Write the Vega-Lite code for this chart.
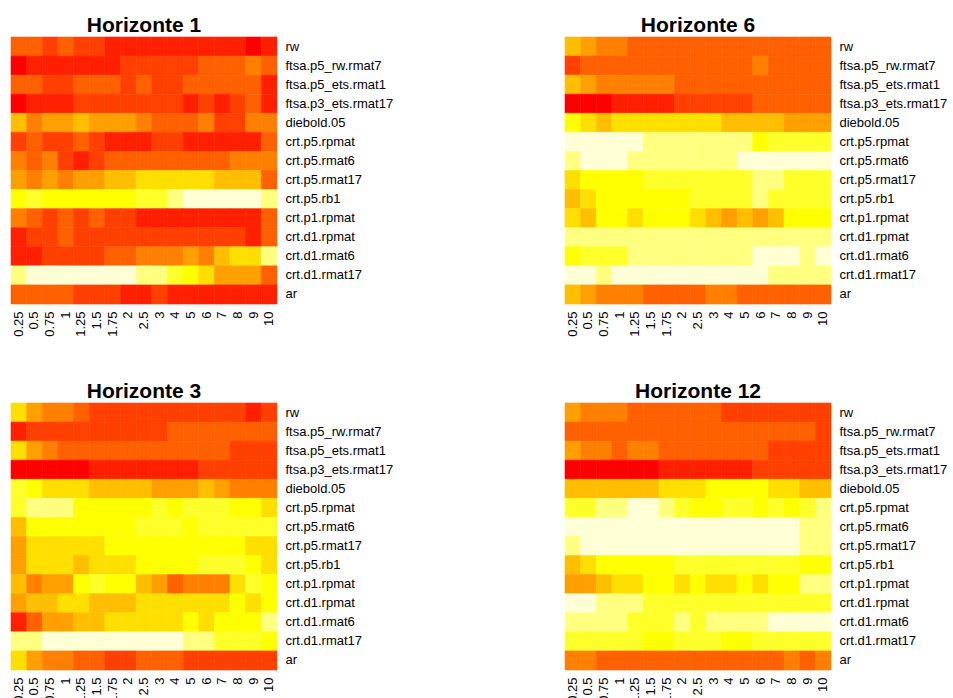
{
"$schema":"https://vega.github.io/schema/vega-lite/v6.json",
"padding":{"left":10,"top":14,"right":5,"bottom":5},
"background":"white",
"config":{"view":{"stroke":null},
"font":"Liberation Sans",
"title":{"font":"Liberation Sans","fontSize":21,"fontWeight":"bold","color":"black","offset":1,"anchor":"middle"},
"axis":{"domain":false,"ticks":false,"labelFont":"Liberation Sans","labelFontSize":13,"labelColor":"black","title":null,"grid":false},
"axisX":{"labelAngle":-90,"labelPadding":7},
"axisY":{"labelPadding":8}},
"data":{"values":[
{"p":1,"r":"rw","x":"0.25","v":3},{"p":1,"r":"rw","x":"0.5","v":3},{"p":1,"r":"rw","x":"0.75","v":2},{"p":1,"r":"rw","x":"1","v":3},{"p":1,"r":"rw","x":"1.25","v":2},{"p":1,"r":"rw","x":"1.5","v":2},{"p":1,"r":"rw","x":"1.75","v":1},{"p":1,"r":"rw","x":"2","v":1},{"p":1,"r":"rw","x":"2.5","v":1},{"p":1,"r":"rw","x":"3","v":1},{"p":1,"r":"rw","x":"4","v":1},{"p":1,"r":"rw","x":"5","v":1},{"p":1,"r":"rw","x":"6","v":1},{"p":1,"r":"rw","x":"7","v":1},{"p":1,"r":"rw","x":"8","v":1},{"p":1,"r":"rw","x":"9","v":0},{"p":1,"r":"rw","x":"10","v":1},
{"p":1,"r":"ftsa.p5_rw.rmat7","x":"0.25","v":0},{"p":1,"r":"ftsa.p5_rw.rmat7","x":"0.5","v":1},{"p":1,"r":"ftsa.p5_rw.rmat7","x":"0.75","v":1},{"p":1,"r":"ftsa.p5_rw.rmat7","x":"1","v":1},{"p":1,"r":"ftsa.p5_rw.rmat7","x":"1.25","v":1},{"p":1,"r":"ftsa.p5_rw.rmat7","x":"1.5","v":1},{"p":1,"r":"ftsa.p5_rw.rmat7","x":"1.75","v":1},{"p":1,"r":"ftsa.p5_rw.rmat7","x":"2","v":2},{"p":1,"r":"ftsa.p5_rw.rmat7","x":"2.5","v":2},{"p":1,"r":"ftsa.p5_rw.rmat7","x":"3","v":2},{"p":1,"r":"ftsa.p5_rw.rmat7","x":"4","v":2},{"p":1,"r":"ftsa.p5_rw.rmat7","x":"5","v":2},{"p":1,"r":"ftsa.p5_rw.rmat7","x":"6","v":3},{"p":1,"r":"ftsa.p5_rw.rmat7","x":"7","v":3},{"p":1,"r":"ftsa.p5_rw.rmat7","x":"8","v":3},{"p":1,"r":"ftsa.p5_rw.rmat7","x":"9","v":4},{"p":1,"r":"ftsa.p5_rw.rmat7","x":"10","v":3},
{"p":1,"r":"ftsa.p5_ets.rmat1","x":"0.25","v":3},{"p":1,"r":"ftsa.p5_ets.rmat1","x":"0.5","v":3},{"p":1,"r":"ftsa.p5_ets.rmat1","x":"0.75","v":2},{"p":1,"r":"ftsa.p5_ets.rmat1","x":"1","v":2},{"p":1,"r":"ftsa.p5_ets.rmat1","x":"1.25","v":3},{"p":1,"r":"ftsa.p5_ets.rmat1","x":"1.5","v":3},{"p":1,"r":"ftsa.p5_ets.rmat1","x":"1.75","v":3},{"p":1,"r":"ftsa.p5_ets.rmat1","x":"2","v":2},{"p":1,"r":"ftsa.p5_ets.rmat1","x":"2.5","v":3},{"p":1,"r":"ftsa.p5_ets.rmat1","x":"3","v":2},{"p":1,"r":"ftsa.p5_ets.rmat1","x":"4","v":2},{"p":1,"r":"ftsa.p5_ets.rmat1","x":"5","v":3},{"p":1,"r":"ftsa.p5_ets.rmat1","x":"6","v":3},{"p":1,"r":"ftsa.p5_ets.rmat1","x":"7","v":3},{"p":1,"r":"ftsa.p5_ets.rmat1","x":"8","v":3},{"p":1,"r":"ftsa.p5_ets.rmat1","x":"9","v":3},{"p":1,"r":"ftsa.p5_ets.rmat1","x":"10","v":1},
{"p":1,"r":"ftsa.p3_ets.rmat17","x":"0.25","v":0},{"p":1,"r":"ftsa.p3_ets.rmat17","x":"0.5","v":1},{"p":1,"r":"ftsa.p3_ets.rmat17","x":"0.75","v":1},{"p":1,"r":"ftsa.p3_ets.rmat17","x":"1","v":1},{"p":1,"r":"ftsa.p3_ets.rmat17","x":"1.25","v":2},{"p":1,"r":"ftsa.p3_ets.rmat17","x":"1.5","v":2},{"p":1,"r":"ftsa.p3_ets.rmat17","x":"1.75","v":2},{"p":1,"r":"ftsa.p3_ets.rmat17","x":"2","v":2},{"p":1,"r":"ftsa.p3_ets.rmat17","x":"2.5","v":2},{"p":1,"r":"ftsa.p3_ets.rmat17","x":"3","v":2},{"p":1,"r":"ftsa.p3_ets.rmat17","x":"4","v":2},{"p":1,"r":"ftsa.p3_ets.rmat17","x":"5","v":1},{"p":1,"r":"ftsa.p3_ets.rmat17","x":"6","v":2},{"p":1,"r":"ftsa.p3_ets.rmat17","x":"7","v":1},{"p":1,"r":"ftsa.p3_ets.rmat17","x":"8","v":2},{"p":1,"r":"ftsa.p3_ets.rmat17","x":"9","v":3},{"p":1,"r":"ftsa.p3_ets.rmat17","x":"10","v":1},
{"p":1,"r":"diebold.05","x":"0.25","v":6},{"p":1,"r":"diebold.05","x":"0.5","v":4},{"p":1,"r":"diebold.05","x":"0.75","v":5},{"p":1,"r":"diebold.05","x":"1","v":5},{"p":1,"r":"diebold.05","x":"1.25","v":6},{"p":1,"r":"diebold.05","x":"1.5","v":5},{"p":1,"r":"diebold.05","x":"1.75","v":5},{"p":1,"r":"diebold.05","x":"2","v":5},{"p":1,"r":"diebold.05","x":"2.5","v":4},{"p":1,"r":"diebold.05","x":"3","v":3},{"p":1,"r":"diebold.05","x":"4","v":3},{"p":1,"r":"diebold.05","x":"5","v":3},{"p":1,"r":"diebold.05","x":"6","v":4},{"p":1,"r":"diebold.05","x":"7","v":2},{"p":1,"r":"diebold.05","x":"8","v":2},{"p":1,"r":"diebold.05","x":"9","v":4},{"p":1,"r":"diebold.05","x":"10","v":4},
{"p":1,"r":"crt.p5.rpmat","x":"0.25","v":2},{"p":1,"r":"crt.p5.rpmat","x":"0.5","v":3},{"p":1,"r":"crt.p5.rpmat","x":"0.75","v":2},{"p":1,"r":"crt.p5.rpmat","x":"1","v":2},{"p":1,"r":"crt.p5.rpmat","x":"1.25","v":3},{"p":1,"r":"crt.p5.rpmat","x":"1.5","v":2},{"p":1,"r":"crt.p5.rpmat","x":"1.75","v":1},{"p":1,"r":"crt.p5.rpmat","x":"2","v":1},{"p":1,"r":"crt.p5.rpmat","x":"2.5","v":1},{"p":1,"r":"crt.p5.rpmat","x":"3","v":2},{"p":1,"r":"crt.p5.rpmat","x":"4","v":2},{"p":1,"r":"crt.p5.rpmat","x":"5","v":1},{"p":1,"r":"crt.p5.rpmat","x":"6","v":1},{"p":1,"r":"crt.p5.rpmat","x":"7","v":1},{"p":1,"r":"crt.p5.rpmat","x":"8","v":1},{"p":1,"r":"crt.p5.rpmat","x":"9","v":1},{"p":1,"r":"crt.p5.rpmat","x":"10","v":3},
{"p":1,"r":"crt.p5.rmat6","x":"0.25","v":4},{"p":1,"r":"crt.p5.rmat6","x":"0.5","v":3},{"p":1,"r":"crt.p5.rmat6","x":"0.75","v":4},{"p":1,"r":"crt.p5.rmat6","x":"1","v":2},{"p":1,"r":"crt.p5.rmat6","x":"1.25","v":1},{"p":1,"r":"crt.p5.rmat6","x":"1.5","v":2},{"p":1,"r":"crt.p5.rmat6","x":"1.75","v":3},{"p":1,"r":"crt.p5.rmat6","x":"2","v":3},{"p":1,"r":"crt.p5.rmat6","x":"2.5","v":3},{"p":1,"r":"crt.p5.rmat6","x":"3","v":3},{"p":1,"r":"crt.p5.rmat6","x":"4","v":3},{"p":1,"r":"crt.p5.rmat6","x":"5","v":3},{"p":1,"r":"crt.p5.rmat6","x":"6","v":3},{"p":1,"r":"crt.p5.rmat6","x":"7","v":3},{"p":1,"r":"crt.p5.rmat6","x":"8","v":4},{"p":1,"r":"crt.p5.rmat6","x":"9","v":4},{"p":1,"r":"crt.p5.rmat6","x":"10","v":4},
{"p":1,"r":"crt.p5.rmat17","x":"0.25","v":5},{"p":1,"r":"crt.p5.rmat17","x":"0.5","v":4},{"p":1,"r":"crt.p5.rmat17","x":"0.75","v":5},{"p":1,"r":"crt.p5.rmat17","x":"1","v":4},{"p":1,"r":"crt.p5.rmat17","x":"1.25","v":5},{"p":1,"r":"crt.p5.rmat17","x":"1.5","v":5},{"p":1,"r":"crt.p5.rmat17","x":"1.75","v":6},{"p":1,"r":"crt.p5.rmat17","x":"2","v":6},{"p":1,"r":"crt.p5.rmat17","x":"2.5","v":7},{"p":1,"r":"crt.p5.rmat17","x":"3","v":7},{"p":1,"r":"crt.p5.rmat17","x":"4","v":7},{"p":1,"r":"crt.p5.rmat17","x":"5","v":7},{"p":1,"r":"crt.p5.rmat17","x":"6","v":7},{"p":1,"r":"crt.p5.rmat17","x":"7","v":6},{"p":1,"r":"crt.p5.rmat17","x":"8","v":6},{"p":1,"r":"crt.p5.rmat17","x":"9","v":6},{"p":1,"r":"crt.p5.rmat17","x":"10","v":3},
{"p":1,"r":"crt.p5.rb1","x":"0.25","v":8},{"p":1,"r":"crt.p5.rb1","x":"0.5","v":9},{"p":1,"r":"crt.p5.rb1","x":"0.75","v":8},{"p":1,"r":"crt.p5.rb1","x":"1","v":8},{"p":1,"r":"crt.p5.rb1","x":"1.25","v":8},{"p":1,"r":"crt.p5.rb1","x":"1.5","v":8},{"p":1,"r":"crt.p5.rb1","x":"1.75","v":8},{"p":1,"r":"crt.p5.rb1","x":"2","v":8},{"p":1,"r":"crt.p5.rb1","x":"2.5","v":9},{"p":1,"r":"crt.p5.rb1","x":"3","v":9},{"p":1,"r":"crt.p5.rb1","x":"4","v":10},{"p":1,"r":"crt.p5.rb1","x":"5","v":11},{"p":1,"r":"crt.p5.rb1","x":"6","v":11},{"p":1,"r":"crt.p5.rb1","x":"7","v":11},{"p":1,"r":"crt.p5.rb1","x":"8","v":11},{"p":1,"r":"crt.p5.rb1","x":"9","v":11},{"p":1,"r":"crt.p5.rb1","x":"10","v":10},
{"p":1,"r":"crt.p1.rpmat","x":"0.25","v":4},{"p":1,"r":"crt.p1.rpmat","x":"0.5","v":3},{"p":1,"r":"crt.p1.rpmat","x":"0.75","v":2},{"p":1,"r":"crt.p1.rpmat","x":"1","v":3},{"p":1,"r":"crt.p1.rpmat","x":"1.25","v":2},{"p":1,"r":"crt.p1.rpmat","x":"1.5","v":3},{"p":1,"r":"crt.p1.rpmat","x":"1.75","v":2},{"p":1,"r":"crt.p1.rpmat","x":"2","v":2},{"p":1,"r":"crt.p1.rpmat","x":"2.5","v":1},{"p":1,"r":"crt.p1.rpmat","x":"3","v":1},{"p":1,"r":"crt.p1.rpmat","x":"4","v":1},{"p":1,"r":"crt.p1.rpmat","x":"5","v":1},{"p":1,"r":"crt.p1.rpmat","x":"6","v":1},{"p":1,"r":"crt.p1.rpmat","x":"7","v":1},{"p":1,"r":"crt.p1.rpmat","x":"8","v":1},{"p":1,"r":"crt.p1.rpmat","x":"9","v":1},{"p":1,"r":"crt.p1.rpmat","x":"10","v":3},
{"p":1,"r":"crt.d1.rpmat","x":"0.25","v":1},{"p":1,"r":"crt.d1.rpmat","x":"0.5","v":2},{"p":1,"r":"crt.d1.rpmat","x":"0.75","v":2},{"p":1,"r":"crt.d1.rpmat","x":"1","v":3},{"p":1,"r":"crt.d1.rpmat","x":"1.25","v":2},{"p":1,"r":"crt.d1.rpmat","x":"1.5","v":2},{"p":1,"r":"crt.d1.rpmat","x":"1.75","v":2},{"p":1,"r":"crt.d1.rpmat","x":"2","v":2},{"p":1,"r":"crt.d1.rpmat","x":"2.5","v":2},{"p":1,"r":"crt.d1.rpmat","x":"3","v":2},{"p":1,"r":"crt.d1.rpmat","x":"4","v":2},{"p":1,"r":"crt.d1.rpmat","x":"5","v":2},{"p":1,"r":"crt.d1.rpmat","x":"6","v":2},{"p":1,"r":"crt.d1.rpmat","x":"7","v":2},{"p":1,"r":"crt.d1.rpmat","x":"8","v":2},{"p":1,"r":"crt.d1.rpmat","x":"9","v":1},{"p":1,"r":"crt.d1.rpmat","x":"10","v":3},
{"p":1,"r":"crt.d1.rmat6","x":"0.25","v":1},{"p":1,"r":"crt.d1.rmat6","x":"0.5","v":1},{"p":1,"r":"crt.d1.rmat6","x":"0.75","v":2},{"p":1,"r":"crt.d1.rmat6","x":"1","v":2},{"p":1,"r":"crt.d1.rmat6","x":"1.25","v":2},{"p":1,"r":"crt.d1.rmat6","x":"1.5","v":2},{"p":1,"r":"crt.d1.rmat6","x":"1.75","v":3},{"p":1,"r":"crt.d1.rmat6","x":"2","v":3},{"p":1,"r":"crt.d1.rmat6","x":"2.5","v":4},{"p":1,"r":"crt.d1.rmat6","x":"3","v":4},{"p":1,"r":"crt.d1.rmat6","x":"4","v":4},{"p":1,"r":"crt.d1.rmat6","x":"5","v":5},{"p":1,"r":"crt.d1.rmat6","x":"6","v":4},{"p":1,"r":"crt.d1.rmat6","x":"7","v":6},{"p":1,"r":"crt.d1.rmat6","x":"8","v":7},{"p":1,"r":"crt.d1.rmat6","x":"9","v":7},{"p":1,"r":"crt.d1.rmat6","x":"10","v":10},
{"p":1,"r":"crt.d1.rmat17","x":"0.25","v":10},{"p":1,"r":"crt.d1.rmat17","x":"0.5","v":11},{"p":1,"r":"crt.d1.rmat17","x":"0.75","v":11},{"p":1,"r":"crt.d1.rmat17","x":"1","v":11},{"p":1,"r":"crt.d1.rmat17","x":"1.25","v":11},{"p":1,"r":"crt.d1.rmat17","x":"1.5","v":11},{"p":1,"r":"crt.d1.rmat17","x":"1.75","v":11},{"p":1,"r":"crt.d1.rmat17","x":"2","v":11},{"p":1,"r":"crt.d1.rmat17","x":"2.5","v":10},{"p":1,"r":"crt.d1.rmat17","x":"3","v":10},{"p":1,"r":"crt.d1.rmat17","x":"4","v":9},{"p":1,"r":"crt.d1.rmat17","x":"5","v":8},{"p":1,"r":"crt.d1.rmat17","x":"6","v":7},{"p":1,"r":"crt.d1.rmat17","x":"7","v":5},{"p":1,"r":"crt.d1.rmat17","x":"8","v":5},{"p":1,"r":"crt.d1.rmat17","x":"9","v":5},{"p":1,"r":"crt.d1.rmat17","x":"10","v":3},
{"p":1,"r":"ar","x":"0.25","v":3},{"p":1,"r":"ar","x":"0.5","v":3},{"p":1,"r":"ar","x":"0.75","v":3},{"p":1,"r":"ar","x":"1","v":3},{"p":1,"r":"ar","x":"1.25","v":2},{"p":1,"r":"ar","x":"1.5","v":2},{"p":1,"r":"ar","x":"1.75","v":2},{"p":1,"r":"ar","x":"2","v":1},{"p":1,"r":"ar","x":"2.5","v":1},{"p":1,"r":"ar","x":"3","v":2},{"p":1,"r":"ar","x":"4","v":1},{"p":1,"r":"ar","x":"5","v":1},{"p":1,"r":"ar","x":"6","v":1},{"p":1,"r":"ar","x":"7","v":1},{"p":1,"r":"ar","x":"8","v":1},{"p":1,"r":"ar","x":"9","v":1},{"p":1,"r":"ar","x":"10","v":1},

{"p":6,"r":"rw","x":"0.25","v":6},{"p":6,"r":"rw","x":"0.5","v":5},{"p":6,"r":"rw","x":"0.75","v":4},{"p":6,"r":"rw","x":"1","v":4},{"p":6,"r":"rw","x":"1.25","v":3},{"p":6,"r":"rw","x":"1.5","v":3},{"p":6,"r":"rw","x":"1.75","v":3},{"p":6,"r":"rw","x":"2","v":3},{"p":6,"r":"rw","x":"2.5","v":3},{"p":6,"r":"rw","x":"3","v":3},{"p":6,"r":"rw","x":"4","v":3},{"p":6,"r":"rw","x":"5","v":3},{"p":6,"r":"rw","x":"6","v":3},{"p":6,"r":"rw","x":"7","v":3},{"p":6,"r":"rw","x":"8","v":3},{"p":6,"r":"rw","x":"9","v":3},{"p":6,"r":"rw","x":"10","v":3},
{"p":6,"r":"ftsa.p5_rw.rmat7","x":"0.25","v":2},{"p":6,"r":"ftsa.p5_rw.rmat7","x":"0.5","v":3},{"p":6,"r":"ftsa.p5_rw.rmat7","x":"0.75","v":3},{"p":6,"r":"ftsa.p5_rw.rmat7","x":"1","v":3},{"p":6,"r":"ftsa.p5_rw.rmat7","x":"1.25","v":3},{"p":6,"r":"ftsa.p5_rw.rmat7","x":"1.5","v":3},{"p":6,"r":"ftsa.p5_rw.rmat7","x":"1.75","v":3},{"p":6,"r":"ftsa.p5_rw.rmat7","x":"2","v":3},{"p":6,"r":"ftsa.p5_rw.rmat7","x":"2.5","v":3},{"p":6,"r":"ftsa.p5_rw.rmat7","x":"3","v":3},{"p":6,"r":"ftsa.p5_rw.rmat7","x":"4","v":3},{"p":6,"r":"ftsa.p5_rw.rmat7","x":"5","v":3},{"p":6,"r":"ftsa.p5_rw.rmat7","x":"6","v":4},{"p":6,"r":"ftsa.p5_rw.rmat7","x":"7","v":3},{"p":6,"r":"ftsa.p5_rw.rmat7","x":"8","v":3},{"p":6,"r":"ftsa.p5_rw.rmat7","x":"9","v":3},{"p":6,"r":"ftsa.p5_rw.rmat7","x":"10","v":3},
{"p":6,"r":"ftsa.p5_ets.rmat1","x":"0.25","v":6},{"p":6,"r":"ftsa.p5_ets.rmat1","x":"0.5","v":5},{"p":6,"r":"ftsa.p5_ets.rmat1","x":"0.75","v":4},{"p":6,"r":"ftsa.p5_ets.rmat1","x":"1","v":4},{"p":6,"r":"ftsa.p5_ets.rmat1","x":"1.25","v":4},{"p":6,"r":"ftsa.p5_ets.rmat1","x":"1.5","v":4},{"p":6,"r":"ftsa.p5_ets.rmat1","x":"1.75","v":4},{"p":6,"r":"ftsa.p5_ets.rmat1","x":"2","v":3},{"p":6,"r":"ftsa.p5_ets.rmat1","x":"2.5","v":3},{"p":6,"r":"ftsa.p5_ets.rmat1","x":"3","v":3},{"p":6,"r":"ftsa.p5_ets.rmat1","x":"4","v":3},{"p":6,"r":"ftsa.p5_ets.rmat1","x":"5","v":3},{"p":6,"r":"ftsa.p5_ets.rmat1","x":"6","v":3},{"p":6,"r":"ftsa.p5_ets.rmat1","x":"7","v":3},{"p":6,"r":"ftsa.p5_ets.rmat1","x":"8","v":3},{"p":6,"r":"ftsa.p5_ets.rmat1","x":"9","v":3},{"p":6,"r":"ftsa.p5_ets.rmat1","x":"10","v":3},
{"p":6,"r":"ftsa.p3_ets.rmat17","x":"0.25","v":0},{"p":6,"r":"ftsa.p3_ets.rmat17","x":"0.5","v":0},{"p":6,"r":"ftsa.p3_ets.rmat17","x":"0.75","v":0},{"p":6,"r":"ftsa.p3_ets.rmat17","x":"1","v":1},{"p":6,"r":"ftsa.p3_ets.rmat17","x":"1.25","v":1},{"p":6,"r":"ftsa.p3_ets.rmat17","x":"1.5","v":1},{"p":6,"r":"ftsa.p3_ets.rmat17","x":"1.75","v":1},{"p":6,"r":"ftsa.p3_ets.rmat17","x":"2","v":2},{"p":6,"r":"ftsa.p3_ets.rmat17","x":"2.5","v":2},{"p":6,"r":"ftsa.p3_ets.rmat17","x":"3","v":2},{"p":6,"r":"ftsa.p3_ets.rmat17","x":"4","v":2},{"p":6,"r":"ftsa.p3_ets.rmat17","x":"5","v":2},{"p":6,"r":"ftsa.p3_ets.rmat17","x":"6","v":3},{"p":6,"r":"ftsa.p3_ets.rmat17","x":"7","v":3},{"p":6,"r":"ftsa.p3_ets.rmat17","x":"8","v":3},{"p":6,"r":"ftsa.p3_ets.rmat17","x":"9","v":3},{"p":6,"r":"ftsa.p3_ets.rmat17","x":"10","v":3},
{"p":6,"r":"diebold.05","x":"0.25","v":8},{"p":6,"r":"diebold.05","x":"0.5","v":7},{"p":6,"r":"diebold.05","x":"0.75","v":6},{"p":6,"r":"diebold.05","x":"1","v":7},{"p":6,"r":"diebold.05","x":"1.25","v":7},{"p":6,"r":"diebold.05","x":"1.5","v":7},{"p":6,"r":"diebold.05","x":"1.75","v":7},{"p":6,"r":"diebold.05","x":"2","v":7},{"p":6,"r":"diebold.05","x":"2.5","v":7},{"p":6,"r":"diebold.05","x":"3","v":7},{"p":6,"r":"diebold.05","x":"4","v":6},{"p":6,"r":"diebold.05","x":"5","v":6},{"p":6,"r":"diebold.05","x":"6","v":6},{"p":6,"r":"diebold.05","x":"7","v":6},{"p":6,"r":"diebold.05","x":"8","v":5},{"p":6,"r":"diebold.05","x":"9","v":5},{"p":6,"r":"diebold.05","x":"10","v":5},
{"p":6,"r":"crt.p5.rpmat","x":"0.25","v":11},{"p":6,"r":"crt.p5.rpmat","x":"0.5","v":11},{"p":6,"r":"crt.p5.rpmat","x":"0.75","v":11},{"p":6,"r":"crt.p5.rpmat","x":"1","v":11},{"p":6,"r":"crt.p5.rpmat","x":"1.25","v":11},{"p":6,"r":"crt.p5.rpmat","x":"1.5","v":10},{"p":6,"r":"crt.p5.rpmat","x":"1.75","v":10},{"p":6,"r":"crt.p5.rpmat","x":"2","v":10},{"p":6,"r":"crt.p5.rpmat","x":"2.5","v":10},{"p":6,"r":"crt.p5.rpmat","x":"3","v":10},{"p":6,"r":"crt.p5.rpmat","x":"4","v":10},{"p":6,"r":"crt.p5.rpmat","x":"5","v":10},{"p":6,"r":"crt.p5.rpmat","x":"6","v":8},{"p":6,"r":"crt.p5.rpmat","x":"7","v":9},{"p":6,"r":"crt.p5.rpmat","x":"8","v":9},{"p":6,"r":"crt.p5.rpmat","x":"9","v":9},{"p":6,"r":"crt.p5.rpmat","x":"10","v":9},
{"p":6,"r":"crt.p5.rmat6","x":"0.25","v":10},{"p":6,"r":"crt.p5.rmat6","x":"0.5","v":11},{"p":6,"r":"crt.p5.rmat6","x":"0.75","v":11},{"p":6,"r":"crt.p5.rmat6","x":"1","v":11},{"p":6,"r":"crt.p5.rmat6","x":"1.25","v":10},{"p":6,"r":"crt.p5.rmat6","x":"1.5","v":10},{"p":6,"r":"crt.p5.rmat6","x":"1.75","v":10},{"p":6,"r":"crt.p5.rmat6","x":"2","v":10},{"p":6,"r":"crt.p5.rmat6","x":"2.5","v":10},{"p":6,"r":"crt.p5.rmat6","x":"3","v":10},{"p":6,"r":"crt.p5.rmat6","x":"4","v":10},{"p":6,"r":"crt.p5.rmat6","x":"5","v":11},{"p":6,"r":"crt.p5.rmat6","x":"6","v":11},{"p":6,"r":"crt.p5.rmat6","x":"7","v":11},{"p":6,"r":"crt.p5.rmat6","x":"8","v":11},{"p":6,"r":"crt.p5.rmat6","x":"9","v":11},{"p":6,"r":"crt.p5.rmat6","x":"10","v":11},
{"p":6,"r":"crt.p5.rmat17","x":"0.25","v":7},{"p":6,"r":"crt.p5.rmat17","x":"0.5","v":8},{"p":6,"r":"crt.p5.rmat17","x":"0.75","v":8},{"p":6,"r":"crt.p5.rmat17","x":"1","v":8},{"p":6,"r":"crt.p5.rmat17","x":"1.25","v":8},{"p":6,"r":"crt.p5.rmat17","x":"1.5","v":9},{"p":6,"r":"crt.p5.rmat17","x":"1.75","v":9},{"p":6,"r":"crt.p5.rmat17","x":"2","v":9},{"p":6,"r":"crt.p5.rmat17","x":"2.5","v":9},{"p":6,"r":"crt.p5.rmat17","x":"3","v":9},{"p":6,"r":"crt.p5.rmat17","x":"4","v":9},{"p":6,"r":"crt.p5.rmat17","x":"5","v":9},{"p":6,"r":"crt.p5.rmat17","x":"6","v":10},{"p":6,"r":"crt.p5.rmat17","x":"7","v":10},{"p":6,"r":"crt.p5.rmat17","x":"8","v":9},{"p":6,"r":"crt.p5.rmat17","x":"9","v":9},{"p":6,"r":"crt.p5.rmat17","x":"10","v":9},
{"p":6,"r":"crt.p5.rb1","x":"0.25","v":6},{"p":6,"r":"crt.p5.rb1","x":"0.5","v":7},{"p":6,"r":"crt.p5.rb1","x":"0.75","v":8},{"p":6,"r":"crt.p5.rb1","x":"1","v":8},{"p":6,"r":"crt.p5.rb1","x":"1.25","v":8},{"p":6,"r":"crt.p5.rb1","x":"1.5","v":8},{"p":6,"r":"crt.p5.rb1","x":"1.75","v":8},{"p":6,"r":"crt.p5.rb1","x":"2","v":8},{"p":6,"r":"crt.p5.rb1","x":"2.5","v":9},{"p":6,"r":"crt.p5.rb1","x":"3","v":9},{"p":6,"r":"crt.p5.rb1","x":"4","v":9},{"p":6,"r":"crt.p5.rb1","x":"5","v":9},{"p":6,"r":"crt.p5.rb1","x":"6","v":10},{"p":6,"r":"crt.p5.rb1","x":"7","v":9},{"p":6,"r":"crt.p5.rb1","x":"8","v":9},{"p":6,"r":"crt.p5.rb1","x":"9","v":9},{"p":6,"r":"crt.p5.rb1","x":"10","v":9},
{"p":6,"r":"crt.p1.rpmat","x":"0.25","v":7},{"p":6,"r":"crt.p1.rpmat","x":"0.5","v":6},{"p":6,"r":"crt.p1.rpmat","x":"0.75","v":8},{"p":6,"r":"crt.p1.rpmat","x":"1","v":8},{"p":6,"r":"crt.p1.rpmat","x":"1.25","v":7},{"p":6,"r":"crt.p1.rpmat","x":"1.5","v":8},{"p":6,"r":"crt.p1.rpmat","x":"1.75","v":8},{"p":6,"r":"crt.p1.rpmat","x":"2","v":8},{"p":6,"r":"crt.p1.rpmat","x":"2.5","v":7},{"p":6,"r":"crt.p1.rpmat","x":"3","v":6},{"p":6,"r":"crt.p1.rpmat","x":"4","v":5},{"p":6,"r":"crt.p1.rpmat","x":"5","v":6},{"p":6,"r":"crt.p1.rpmat","x":"6","v":5},{"p":6,"r":"crt.p1.rpmat","x":"7","v":6},{"p":6,"r":"crt.p1.rpmat","x":"8","v":8},{"p":6,"r":"crt.p1.rpmat","x":"9","v":8},{"p":6,"r":"crt.p1.rpmat","x":"10","v":8},
{"p":6,"r":"crt.d1.rpmat","x":"0.25","v":10},{"p":6,"r":"crt.d1.rpmat","x":"0.5","v":10},{"p":6,"r":"crt.d1.rpmat","x":"0.75","v":10},{"p":6,"r":"crt.d1.rpmat","x":"1","v":10},{"p":6,"r":"crt.d1.rpmat","x":"1.25","v":10},{"p":6,"r":"crt.d1.rpmat","x":"1.5","v":10},{"p":6,"r":"crt.d1.rpmat","x":"1.75","v":10},{"p":6,"r":"crt.d1.rpmat","x":"2","v":10},{"p":6,"r":"crt.d1.rpmat","x":"2.5","v":10},{"p":6,"r":"crt.d1.rpmat","x":"3","v":10},{"p":6,"r":"crt.d1.rpmat","x":"4","v":10},{"p":6,"r":"crt.d1.rpmat","x":"5","v":10},{"p":6,"r":"crt.d1.rpmat","x":"6","v":10},{"p":6,"r":"crt.d1.rpmat","x":"7","v":10},{"p":6,"r":"crt.d1.rpmat","x":"8","v":10},{"p":6,"r":"crt.d1.rpmat","x":"9","v":10},{"p":6,"r":"crt.d1.rpmat","x":"10","v":10},
{"p":6,"r":"crt.d1.rmat6","x":"0.25","v":8},{"p":6,"r":"crt.d1.rmat6","x":"0.5","v":9},{"p":6,"r":"crt.d1.rmat6","x":"0.75","v":9},{"p":6,"r":"crt.d1.rmat6","x":"1","v":9},{"p":6,"r":"crt.d1.rmat6","x":"1.25","v":10},{"p":6,"r":"crt.d1.rmat6","x":"1.5","v":10},{"p":6,"r":"crt.d1.rmat6","x":"1.75","v":10},{"p":6,"r":"crt.d1.rmat6","x":"2","v":10},{"p":6,"r":"crt.d1.rmat6","x":"2.5","v":10},{"p":6,"r":"crt.d1.rmat6","x":"3","v":10},{"p":6,"r":"crt.d1.rmat6","x":"4","v":10},{"p":6,"r":"crt.d1.rmat6","x":"5","v":10},{"p":6,"r":"crt.d1.rmat6","x":"6","v":11},{"p":6,"r":"crt.d1.rmat6","x":"7","v":11},{"p":6,"r":"crt.d1.rmat6","x":"8","v":11},{"p":6,"r":"crt.d1.rmat6","x":"9","v":10},{"p":6,"r":"crt.d1.rmat6","x":"10","v":11},
{"p":6,"r":"crt.d1.rmat17","x":"0.25","v":11},{"p":6,"r":"crt.d1.rmat17","x":"0.5","v":11},{"p":6,"r":"crt.d1.rmat17","x":"0.75","v":10},{"p":6,"r":"crt.d1.rmat17","x":"1","v":11},{"p":6,"r":"crt.d1.rmat17","x":"1.25","v":11},{"p":6,"r":"crt.d1.rmat17","x":"1.5","v":11},{"p":6,"r":"crt.d1.rmat17","x":"1.75","v":11},{"p":6,"r":"crt.d1.rmat17","x":"2","v":11},{"p":6,"r":"crt.d1.rmat17","x":"2.5","v":11},{"p":6,"r":"crt.d1.rmat17","x":"3","v":11},{"p":6,"r":"crt.d1.rmat17","x":"4","v":11},{"p":6,"r":"crt.d1.rmat17","x":"5","v":11},{"p":6,"r":"crt.d1.rmat17","x":"6","v":11},{"p":6,"r":"crt.d1.rmat17","x":"7","v":10},{"p":6,"r":"crt.d1.rmat17","x":"8","v":10},{"p":6,"r":"crt.d1.rmat17","x":"9","v":10},{"p":6,"r":"crt.d1.rmat17","x":"10","v":10},
{"p":6,"r":"ar","x":"0.25","v":6},{"p":6,"r":"ar","x":"0.5","v":5},{"p":6,"r":"ar","x":"0.75","v":4},{"p":6,"r":"ar","x":"1","v":4},{"p":6,"r":"ar","x":"1.25","v":4},{"p":6,"r":"ar","x":"1.5","v":3},{"p":6,"r":"ar","x":"1.75","v":3},{"p":6,"r":"ar","x":"2","v":3},{"p":6,"r":"ar","x":"2.5","v":3},{"p":6,"r":"ar","x":"3","v":4},{"p":6,"r":"ar","x":"4","v":4},{"p":6,"r":"ar","x":"5","v":3},{"p":6,"r":"ar","x":"6","v":3},{"p":6,"r":"ar","x":"7","v":3},{"p":6,"r":"ar","x":"8","v":3},{"p":6,"r":"ar","x":"9","v":3},{"p":6,"r":"ar","x":"10","v":3},

{"p":3,"r":"rw","x":"0.25","v":7},{"p":3,"r":"rw","x":"0.5","v":5},{"p":3,"r":"rw","x":"0.75","v":4},{"p":3,"r":"rw","x":"1","v":4},{"p":3,"r":"rw","x":"1.25","v":3},{"p":3,"r":"rw","x":"1.5","v":2},{"p":3,"r":"rw","x":"1.75","v":2},{"p":3,"r":"rw","x":"2","v":2},{"p":3,"r":"rw","x":"2.5","v":2},{"p":3,"r":"rw","x":"3","v":2},{"p":3,"r":"rw","x":"4","v":2},{"p":3,"r":"rw","x":"5","v":2},{"p":3,"r":"rw","x":"6","v":2},{"p":3,"r":"rw","x":"7","v":2},{"p":3,"r":"rw","x":"8","v":2},{"p":3,"r":"rw","x":"9","v":1},{"p":3,"r":"rw","x":"10","v":2},
{"p":3,"r":"ftsa.p5_rw.rmat7","x":"0.25","v":1},{"p":3,"r":"ftsa.p5_rw.rmat7","x":"0.5","v":2},{"p":3,"r":"ftsa.p5_rw.rmat7","x":"0.75","v":2},{"p":3,"r":"ftsa.p5_rw.rmat7","x":"1","v":2},{"p":3,"r":"ftsa.p5_rw.rmat7","x":"1.25","v":2},{"p":3,"r":"ftsa.p5_rw.rmat7","x":"1.5","v":2},{"p":3,"r":"ftsa.p5_rw.rmat7","x":"1.75","v":2},{"p":3,"r":"ftsa.p5_rw.rmat7","x":"2","v":2},{"p":3,"r":"ftsa.p5_rw.rmat7","x":"2.5","v":2},{"p":3,"r":"ftsa.p5_rw.rmat7","x":"3","v":2},{"p":3,"r":"ftsa.p5_rw.rmat7","x":"4","v":3},{"p":3,"r":"ftsa.p5_rw.rmat7","x":"5","v":3},{"p":3,"r":"ftsa.p5_rw.rmat7","x":"6","v":3},{"p":3,"r":"ftsa.p5_rw.rmat7","x":"7","v":3},{"p":3,"r":"ftsa.p5_rw.rmat7","x":"8","v":3},{"p":3,"r":"ftsa.p5_rw.rmat7","x":"9","v":3},{"p":3,"r":"ftsa.p5_rw.rmat7","x":"10","v":3},
{"p":3,"r":"ftsa.p5_ets.rmat1","x":"0.25","v":7},{"p":3,"r":"ftsa.p5_ets.rmat1","x":"0.5","v":5},{"p":3,"r":"ftsa.p5_ets.rmat1","x":"0.75","v":4},{"p":3,"r":"ftsa.p5_ets.rmat1","x":"1","v":3},{"p":3,"r":"ftsa.p5_ets.rmat1","x":"1.25","v":3},{"p":3,"r":"ftsa.p5_ets.rmat1","x":"1.5","v":3},{"p":3,"r":"ftsa.p5_ets.rmat1","x":"1.75","v":3},{"p":3,"r":"ftsa.p5_ets.rmat1","x":"2","v":3},{"p":3,"r":"ftsa.p5_ets.rmat1","x":"2.5","v":3},{"p":3,"r":"ftsa.p5_ets.rmat1","x":"3","v":3},{"p":3,"r":"ftsa.p5_ets.rmat1","x":"4","v":3},{"p":3,"r":"ftsa.p5_ets.rmat1","x":"5","v":3},{"p":3,"r":"ftsa.p5_ets.rmat1","x":"6","v":3},{"p":3,"r":"ftsa.p5_ets.rmat1","x":"7","v":3},{"p":3,"r":"ftsa.p5_ets.rmat1","x":"8","v":2},{"p":3,"r":"ftsa.p5_ets.rmat1","x":"9","v":2},{"p":3,"r":"ftsa.p5_ets.rmat1","x":"10","v":2},
{"p":3,"r":"ftsa.p3_ets.rmat17","x":"0.25","v":0},{"p":3,"r":"ftsa.p3_ets.rmat17","x":"0.5","v":0},{"p":3,"r":"ftsa.p3_ets.rmat17","x":"0.75","v":0},{"p":3,"r":"ftsa.p3_ets.rmat17","x":"1","v":0},{"p":3,"r":"ftsa.p3_ets.rmat17","x":"1.25","v":0},{"p":3,"r":"ftsa.p3_ets.rmat17","x":"1.5","v":1},{"p":3,"r":"ftsa.p3_ets.rmat17","x":"1.75","v":1},{"p":3,"r":"ftsa.p3_ets.rmat17","x":"2","v":1},{"p":3,"r":"ftsa.p3_ets.rmat17","x":"2.5","v":1},{"p":3,"r":"ftsa.p3_ets.rmat17","x":"3","v":1},{"p":3,"r":"ftsa.p3_ets.rmat17","x":"4","v":1},{"p":3,"r":"ftsa.p3_ets.rmat17","x":"5","v":1},{"p":3,"r":"ftsa.p3_ets.rmat17","x":"6","v":2},{"p":3,"r":"ftsa.p3_ets.rmat17","x":"7","v":2},{"p":3,"r":"ftsa.p3_ets.rmat17","x":"8","v":2},{"p":3,"r":"ftsa.p3_ets.rmat17","x":"9","v":2},{"p":3,"r":"ftsa.p3_ets.rmat17","x":"10","v":2},
{"p":3,"r":"diebold.05","x":"0.25","v":9},{"p":3,"r":"diebold.05","x":"0.5","v":8},{"p":3,"r":"diebold.05","x":"0.75","v":7},{"p":3,"r":"diebold.05","x":"1","v":7},{"p":3,"r":"diebold.05","x":"1.25","v":7},{"p":3,"r":"diebold.05","x":"1.5","v":6},{"p":3,"r":"diebold.05","x":"1.75","v":6},{"p":3,"r":"diebold.05","x":"2","v":6},{"p":3,"r":"diebold.05","x":"2.5","v":6},{"p":3,"r":"diebold.05","x":"3","v":5},{"p":3,"r":"diebold.05","x":"4","v":5},{"p":3,"r":"diebold.05","x":"5","v":5},{"p":3,"r":"diebold.05","x":"6","v":6},{"p":3,"r":"diebold.05","x":"7","v":5},{"p":3,"r":"diebold.05","x":"8","v":4},{"p":3,"r":"diebold.05","x":"9","v":4},{"p":3,"r":"diebold.05","x":"10","v":4},
{"p":3,"r":"crt.p5.rpmat","x":"0.25","v":9},{"p":3,"r":"crt.p5.rpmat","x":"0.5","v":10},{"p":3,"r":"crt.p5.rpmat","x":"0.75","v":10},{"p":3,"r":"crt.p5.rpmat","x":"1","v":10},{"p":3,"r":"crt.p5.rpmat","x":"1.25","v":8},{"p":3,"r":"crt.p5.rpmat","x":"1.5","v":8},{"p":3,"r":"crt.p5.rpmat","x":"1.75","v":8},{"p":3,"r":"crt.p5.rpmat","x":"2","v":8},{"p":3,"r":"crt.p5.rpmat","x":"2.5","v":8},{"p":3,"r":"crt.p5.rpmat","x":"3","v":9},{"p":3,"r":"crt.p5.rpmat","x":"4","v":8},{"p":3,"r":"crt.p5.rpmat","x":"5","v":9},{"p":3,"r":"crt.p5.rpmat","x":"6","v":9},{"p":3,"r":"crt.p5.rpmat","x":"7","v":9},{"p":3,"r":"crt.p5.rpmat","x":"8","v":8},{"p":3,"r":"crt.p5.rpmat","x":"9","v":8},{"p":3,"r":"crt.p5.rpmat","x":"10","v":7},
{"p":3,"r":"crt.p5.rmat6","x":"0.25","v":6},{"p":3,"r":"crt.p5.rmat6","x":"0.5","v":8},{"p":3,"r":"crt.p5.rmat6","x":"0.75","v":8},{"p":3,"r":"crt.p5.rmat6","x":"1","v":8},{"p":3,"r":"crt.p5.rmat6","x":"1.25","v":8},{"p":3,"r":"crt.p5.rmat6","x":"1.5","v":8},{"p":3,"r":"crt.p5.rmat6","x":"1.75","v":8},{"p":3,"r":"crt.p5.rmat6","x":"2","v":8},{"p":3,"r":"crt.p5.rmat6","x":"2.5","v":9},{"p":3,"r":"crt.p5.rmat6","x":"3","v":9},{"p":3,"r":"crt.p5.rmat6","x":"4","v":9},{"p":3,"r":"crt.p5.rmat6","x":"5","v":8},{"p":3,"r":"crt.p5.rmat6","x":"6","v":9},{"p":3,"r":"crt.p5.rmat6","x":"7","v":9},{"p":3,"r":"crt.p5.rmat6","x":"8","v":9},{"p":3,"r":"crt.p5.rmat6","x":"9","v":9},{"p":3,"r":"crt.p5.rmat6","x":"10","v":9},
{"p":3,"r":"crt.p5.rmat17","x":"0.25","v":5},{"p":3,"r":"crt.p5.rmat17","x":"0.5","v":7},{"p":3,"r":"crt.p5.rmat17","x":"0.75","v":7},{"p":3,"r":"crt.p5.rmat17","x":"1","v":7},{"p":3,"r":"crt.p5.rmat17","x":"1.25","v":7},{"p":3,"r":"crt.p5.rmat17","x":"1.5","v":7},{"p":3,"r":"crt.p5.rmat17","x":"1.75","v":8},{"p":3,"r":"crt.p5.rmat17","x":"2","v":8},{"p":3,"r":"crt.p5.rmat17","x":"2.5","v":8},{"p":3,"r":"crt.p5.rmat17","x":"3","v":8},{"p":3,"r":"crt.p5.rmat17","x":"4","v":8},{"p":3,"r":"crt.p5.rmat17","x":"5","v":8},{"p":3,"r":"crt.p5.rmat17","x":"6","v":8},{"p":3,"r":"crt.p5.rmat17","x":"7","v":8},{"p":3,"r":"crt.p5.rmat17","x":"8","v":8},{"p":3,"r":"crt.p5.rmat17","x":"9","v":7},{"p":3,"r":"crt.p5.rmat17","x":"10","v":7},
{"p":3,"r":"crt.p5.rb1","x":"0.25","v":5},{"p":3,"r":"crt.p5.rb1","x":"0.5","v":7},{"p":3,"r":"crt.p5.rb1","x":"0.75","v":7},{"p":3,"r":"crt.p5.rb1","x":"1","v":7},{"p":3,"r":"crt.p5.rb1","x":"1.25","v":6},{"p":3,"r":"crt.p5.rb1","x":"1.5","v":7},{"p":3,"r":"crt.p5.rb1","x":"1.75","v":7},{"p":3,"r":"crt.p5.rb1","x":"2","v":7},{"p":3,"r":"crt.p5.rb1","x":"2.5","v":8},{"p":3,"r":"crt.p5.rb1","x":"3","v":8},{"p":3,"r":"crt.p5.rb1","x":"4","v":8},{"p":3,"r":"crt.p5.rb1","x":"5","v":8},{"p":3,"r":"crt.p5.rb1","x":"6","v":9},{"p":3,"r":"crt.p5.rb1","x":"7","v":9},{"p":3,"r":"crt.p5.rb1","x":"8","v":9},{"p":3,"r":"crt.p5.rb1","x":"9","v":8},{"p":3,"r":"crt.p5.rb1","x":"10","v":7},
{"p":3,"r":"crt.p1.rpmat","x":"0.25","v":6},{"p":3,"r":"crt.p1.rpmat","x":"0.5","v":4},{"p":3,"r":"crt.p1.rpmat","x":"0.75","v":5},{"p":3,"r":"crt.p1.rpmat","x":"1","v":5},{"p":3,"r":"crt.p1.rpmat","x":"1.25","v":8},{"p":3,"r":"crt.p1.rpmat","x":"1.5","v":9},{"p":3,"r":"crt.p1.rpmat","x":"1.75","v":8},{"p":3,"r":"crt.p1.rpmat","x":"2","v":8},{"p":3,"r":"crt.p1.rpmat","x":"2.5","v":6},{"p":3,"r":"crt.p1.rpmat","x":"3","v":5},{"p":3,"r":"crt.p1.rpmat","x":"4","v":3},{"p":3,"r":"crt.p1.rpmat","x":"5","v":4},{"p":3,"r":"crt.p1.rpmat","x":"6","v":4},{"p":3,"r":"crt.p1.rpmat","x":"7","v":4},{"p":3,"r":"crt.p1.rpmat","x":"8","v":7},{"p":3,"r":"crt.p1.rpmat","x":"9","v":9},{"p":3,"r":"crt.p1.rpmat","x":"10","v":8},
{"p":3,"r":"crt.d1.rpmat","x":"0.25","v":5},{"p":3,"r":"crt.d1.rpmat","x":"0.5","v":6},{"p":3,"r":"crt.d1.rpmat","x":"0.75","v":6},{"p":3,"r":"crt.d1.rpmat","x":"1","v":7},{"p":3,"r":"crt.d1.rpmat","x":"1.25","v":7},{"p":3,"r":"crt.d1.rpmat","x":"1.5","v":6},{"p":3,"r":"crt.d1.rpmat","x":"1.75","v":6},{"p":3,"r":"crt.d1.rpmat","x":"2","v":6},{"p":3,"r":"crt.d1.rpmat","x":"2.5","v":7},{"p":3,"r":"crt.d1.rpmat","x":"3","v":7},{"p":3,"r":"crt.d1.rpmat","x":"4","v":7},{"p":3,"r":"crt.d1.rpmat","x":"5","v":7},{"p":3,"r":"crt.d1.rpmat","x":"6","v":7},{"p":3,"r":"crt.d1.rpmat","x":"7","v":7},{"p":3,"r":"crt.d1.rpmat","x":"8","v":8},{"p":3,"r":"crt.d1.rpmat","x":"9","v":7},{"p":3,"r":"crt.d1.rpmat","x":"10","v":8},
{"p":3,"r":"crt.d1.rmat6","x":"0.25","v":1},{"p":3,"r":"crt.d1.rmat6","x":"0.5","v":3},{"p":3,"r":"crt.d1.rmat6","x":"0.75","v":5},{"p":3,"r":"crt.d1.rmat6","x":"1","v":5},{"p":3,"r":"crt.d1.rmat6","x":"1.25","v":6},{"p":3,"r":"crt.d1.rmat6","x":"1.5","v":6},{"p":3,"r":"crt.d1.rmat6","x":"1.75","v":7},{"p":3,"r":"crt.d1.rmat6","x":"2","v":7},{"p":3,"r":"crt.d1.rmat6","x":"2.5","v":7},{"p":3,"r":"crt.d1.rmat6","x":"3","v":7},{"p":3,"r":"crt.d1.rmat6","x":"4","v":7},{"p":3,"r":"crt.d1.rmat6","x":"5","v":8},{"p":3,"r":"crt.d1.rmat6","x":"6","v":7},{"p":3,"r":"crt.d1.rmat6","x":"7","v":8},{"p":3,"r":"crt.d1.rmat6","x":"8","v":8},{"p":3,"r":"crt.d1.rmat6","x":"9","v":8},{"p":3,"r":"crt.d1.rmat6","x":"10","v":10},
{"p":3,"r":"crt.d1.rmat17","x":"0.25","v":10},{"p":3,"r":"crt.d1.rmat17","x":"0.5","v":10},{"p":3,"r":"crt.d1.rmat17","x":"0.75","v":11},{"p":3,"r":"crt.d1.rmat17","x":"1","v":11},{"p":3,"r":"crt.d1.rmat17","x":"1.25","v":11},{"p":3,"r":"crt.d1.rmat17","x":"1.5","v":11},{"p":3,"r":"crt.d1.rmat17","x":"1.75","v":11},{"p":3,"r":"crt.d1.rmat17","x":"2","v":11},{"p":3,"r":"crt.d1.rmat17","x":"2.5","v":11},{"p":3,"r":"crt.d1.rmat17","x":"3","v":11},{"p":3,"r":"crt.d1.rmat17","x":"4","v":11},{"p":3,"r":"crt.d1.rmat17","x":"5","v":10},{"p":3,"r":"crt.d1.rmat17","x":"6","v":10},{"p":3,"r":"crt.d1.rmat17","x":"7","v":9},{"p":3,"r":"crt.d1.rmat17","x":"8","v":9},{"p":3,"r":"crt.d1.rmat17","x":"9","v":9},{"p":3,"r":"crt.d1.rmat17","x":"10","v":8},
{"p":3,"r":"ar","x":"0.25","v":7},{"p":3,"r":"ar","x":"0.5","v":5},{"p":3,"r":"ar","x":"0.75","v":4},{"p":3,"r":"ar","x":"1","v":4},{"p":3,"r":"ar","x":"1.25","v":3},{"p":3,"r":"ar","x":"1.5","v":3},{"p":3,"r":"ar","x":"1.75","v":2},{"p":3,"r":"ar","x":"2","v":2},{"p":3,"r":"ar","x":"2.5","v":3},{"p":3,"r":"ar","x":"3","v":3},{"p":3,"r":"ar","x":"4","v":3},{"p":3,"r":"ar","x":"5","v":2},{"p":3,"r":"ar","x":"6","v":2},{"p":3,"r":"ar","x":"7","v":2},{"p":3,"r":"ar","x":"8","v":2},{"p":3,"r":"ar","x":"9","v":2},{"p":3,"r":"ar","x":"10","v":2},

{"p":12,"r":"rw","x":"0.25","v":5},{"p":12,"r":"rw","x":"0.5","v":4},{"p":12,"r":"rw","x":"0.75","v":4},{"p":12,"r":"rw","x":"1","v":4},{"p":12,"r":"rw","x":"1.25","v":3},{"p":12,"r":"rw","x":"1.5","v":3},{"p":12,"r":"rw","x":"1.75","v":3},{"p":12,"r":"rw","x":"2","v":3},{"p":12,"r":"rw","x":"2.5","v":3},{"p":12,"r":"rw","x":"3","v":3},{"p":12,"r":"rw","x":"4","v":2},{"p":12,"r":"rw","x":"5","v":2},{"p":12,"r":"rw","x":"6","v":2},{"p":12,"r":"rw","x":"7","v":2},{"p":12,"r":"rw","x":"8","v":2},{"p":12,"r":"rw","x":"9","v":2},{"p":12,"r":"rw","x":"10","v":2},
{"p":12,"r":"ftsa.p5_rw.rmat7","x":"0.25","v":3},{"p":12,"r":"ftsa.p5_rw.rmat7","x":"0.5","v":3},{"p":12,"r":"ftsa.p5_rw.rmat7","x":"0.75","v":3},{"p":12,"r":"ftsa.p5_rw.rmat7","x":"1","v":3},{"p":12,"r":"ftsa.p5_rw.rmat7","x":"1.25","v":3},{"p":12,"r":"ftsa.p5_rw.rmat7","x":"1.5","v":3},{"p":12,"r":"ftsa.p5_rw.rmat7","x":"1.75","v":3},{"p":12,"r":"ftsa.p5_rw.rmat7","x":"2","v":3},{"p":12,"r":"ftsa.p5_rw.rmat7","x":"2.5","v":3},{"p":12,"r":"ftsa.p5_rw.rmat7","x":"3","v":3},{"p":12,"r":"ftsa.p5_rw.rmat7","x":"4","v":3},{"p":12,"r":"ftsa.p5_rw.rmat7","x":"5","v":3},{"p":12,"r":"ftsa.p5_rw.rmat7","x":"6","v":3},{"p":12,"r":"ftsa.p5_rw.rmat7","x":"7","v":3},{"p":12,"r":"ftsa.p5_rw.rmat7","x":"8","v":3},{"p":12,"r":"ftsa.p5_rw.rmat7","x":"9","v":3},{"p":12,"r":"ftsa.p5_rw.rmat7","x":"10","v":2},
{"p":12,"r":"ftsa.p5_ets.rmat1","x":"0.25","v":5},{"p":12,"r":"ftsa.p5_ets.rmat1","x":"0.5","v":4},{"p":12,"r":"ftsa.p5_ets.rmat1","x":"0.75","v":4},{"p":12,"r":"ftsa.p5_ets.rmat1","x":"1","v":3},{"p":12,"r":"ftsa.p5_ets.rmat1","x":"1.25","v":4},{"p":12,"r":"ftsa.p5_ets.rmat1","x":"1.5","v":4},{"p":12,"r":"ftsa.p5_ets.rmat1","x":"1.75","v":3},{"p":12,"r":"ftsa.p5_ets.rmat1","x":"2","v":3},{"p":12,"r":"ftsa.p5_ets.rmat1","x":"2.5","v":3},{"p":12,"r":"ftsa.p5_ets.rmat1","x":"3","v":3},{"p":12,"r":"ftsa.p5_ets.rmat1","x":"4","v":3},{"p":12,"r":"ftsa.p5_ets.rmat1","x":"5","v":3},{"p":12,"r":"ftsa.p5_ets.rmat1","x":"6","v":3},{"p":12,"r":"ftsa.p5_ets.rmat1","x":"7","v":2},{"p":12,"r":"ftsa.p5_ets.rmat1","x":"8","v":2},{"p":12,"r":"ftsa.p5_ets.rmat1","x":"9","v":2},{"p":12,"r":"ftsa.p5_ets.rmat1","x":"10","v":2},
{"p":12,"r":"ftsa.p3_ets.rmat17","x":"0.25","v":0},{"p":12,"r":"ftsa.p3_ets.rmat17","x":"0.5","v":0},{"p":12,"r":"ftsa.p3_ets.rmat17","x":"0.75","v":0},{"p":12,"r":"ftsa.p3_ets.rmat17","x":"1","v":0},{"p":12,"r":"ftsa.p3_ets.rmat17","x":"1.25","v":0},{"p":12,"r":"ftsa.p3_ets.rmat17","x":"1.5","v":0},{"p":12,"r":"ftsa.p3_ets.rmat17","x":"1.75","v":1},{"p":12,"r":"ftsa.p3_ets.rmat17","x":"2","v":1},{"p":12,"r":"ftsa.p3_ets.rmat17","x":"2.5","v":1},{"p":12,"r":"ftsa.p3_ets.rmat17","x":"3","v":1},{"p":12,"r":"ftsa.p3_ets.rmat17","x":"4","v":1},{"p":12,"r":"ftsa.p3_ets.rmat17","x":"5","v":1},{"p":12,"r":"ftsa.p3_ets.rmat17","x":"6","v":2},{"p":12,"r":"ftsa.p3_ets.rmat17","x":"7","v":2},{"p":12,"r":"ftsa.p3_ets.rmat17","x":"8","v":2},{"p":12,"r":"ftsa.p3_ets.rmat17","x":"9","v":2},{"p":12,"r":"ftsa.p3_ets.rmat17","x":"10","v":2},
{"p":12,"r":"diebold.05","x":"0.25","v":6},{"p":12,"r":"diebold.05","x":"0.5","v":6},{"p":12,"r":"diebold.05","x":"0.75","v":6},{"p":12,"r":"diebold.05","x":"1","v":6},{"p":12,"r":"diebold.05","x":"1.25","v":6},{"p":12,"r":"diebold.05","x":"1.5","v":6},{"p":12,"r":"diebold.05","x":"1.75","v":7},{"p":12,"r":"diebold.05","x":"2","v":7},{"p":12,"r":"diebold.05","x":"2.5","v":7},{"p":12,"r":"diebold.05","x":"3","v":8},{"p":12,"r":"diebold.05","x":"4","v":8},{"p":12,"r":"diebold.05","x":"5","v":8},{"p":12,"r":"diebold.05","x":"6","v":8},{"p":12,"r":"diebold.05","x":"7","v":7},{"p":12,"r":"diebold.05","x":"8","v":7},{"p":12,"r":"diebold.05","x":"9","v":6},{"p":12,"r":"diebold.05","x":"10","v":6},
{"p":12,"r":"crt.p5.rpmat","x":"0.25","v":9},{"p":12,"r":"crt.p5.rpmat","x":"0.5","v":9},{"p":12,"r":"crt.p5.rpmat","x":"0.75","v":10},{"p":12,"r":"crt.p5.rpmat","x":"1","v":10},{"p":12,"r":"crt.p5.rpmat","x":"1.25","v":11},{"p":12,"r":"crt.p5.rpmat","x":"1.5","v":11},{"p":12,"r":"crt.p5.rpmat","x":"1.75","v":10},{"p":12,"r":"crt.p5.rpmat","x":"2","v":9},{"p":12,"r":"crt.p5.rpmat","x":"2.5","v":8},{"p":12,"r":"crt.p5.rpmat","x":"3","v":8},{"p":12,"r":"crt.p5.rpmat","x":"4","v":9},{"p":12,"r":"crt.p5.rpmat","x":"5","v":9},{"p":12,"r":"crt.p5.rpmat","x":"6","v":8},{"p":12,"r":"crt.p5.rpmat","x":"7","v":9},{"p":12,"r":"crt.p5.rpmat","x":"8","v":8},{"p":12,"r":"crt.p5.rpmat","x":"9","v":9},{"p":12,"r":"crt.p5.rpmat","x":"10","v":10},
{"p":12,"r":"crt.p5.rmat6","x":"0.25","v":11},{"p":12,"r":"crt.p5.rmat6","x":"0.5","v":11},{"p":12,"r":"crt.p5.rmat6","x":"0.75","v":11},{"p":12,"r":"crt.p5.rmat6","x":"1","v":11},{"p":12,"r":"crt.p5.rmat6","x":"1.25","v":11},{"p":12,"r":"crt.p5.rmat6","x":"1.5","v":11},{"p":12,"r":"crt.p5.rmat6","x":"1.75","v":11},{"p":12,"r":"crt.p5.rmat6","x":"2","v":11},{"p":12,"r":"crt.p5.rmat6","x":"2.5","v":11},{"p":12,"r":"crt.p5.rmat6","x":"3","v":11},{"p":12,"r":"crt.p5.rmat6","x":"4","v":11},{"p":12,"r":"crt.p5.rmat6","x":"5","v":11},{"p":12,"r":"crt.p5.rmat6","x":"6","v":11},{"p":12,"r":"crt.p5.rmat6","x":"7","v":11},{"p":12,"r":"crt.p5.rmat6","x":"8","v":11},{"p":12,"r":"crt.p5.rmat6","x":"9","v":10},{"p":12,"r":"crt.p5.rmat6","x":"10","v":10},
{"p":12,"r":"crt.p5.rmat17","x":"0.25","v":10},{"p":12,"r":"crt.p5.rmat17","x":"0.5","v":11},{"p":12,"r":"crt.p5.rmat17","x":"0.75","v":11},{"p":12,"r":"crt.p5.rmat17","x":"1","v":11},{"p":12,"r":"crt.p5.rmat17","x":"1.25","v":11},{"p":12,"r":"crt.p5.rmat17","x":"1.5","v":11},{"p":12,"r":"crt.p5.rmat17","x":"1.75","v":11},{"p":12,"r":"crt.p5.rmat17","x":"2","v":11},{"p":12,"r":"crt.p5.rmat17","x":"2.5","v":11},{"p":12,"r":"crt.p5.rmat17","x":"3","v":11},{"p":12,"r":"crt.p5.rmat17","x":"4","v":11},{"p":12,"r":"crt.p5.rmat17","x":"5","v":11},{"p":12,"r":"crt.p5.rmat17","x":"6","v":11},{"p":12,"r":"crt.p5.rmat17","x":"7","v":11},{"p":12,"r":"crt.p5.rmat17","x":"8","v":11},{"p":12,"r":"crt.p5.rmat17","x":"9","v":10},{"p":12,"r":"crt.p5.rmat17","x":"10","v":10},
{"p":12,"r":"crt.p5.rb1","x":"0.25","v":6},{"p":12,"r":"crt.p5.rb1","x":"0.5","v":7},{"p":12,"r":"crt.p5.rb1","x":"0.75","v":8},{"p":12,"r":"crt.p5.rb1","x":"1","v":8},{"p":12,"r":"crt.p5.rb1","x":"1.25","v":8},{"p":12,"r":"crt.p5.rb1","x":"1.5","v":8},{"p":12,"r":"crt.p5.rb1","x":"1.75","v":8},{"p":12,"r":"crt.p5.rb1","x":"2","v":9},{"p":12,"r":"crt.p5.rb1","x":"2.5","v":9},{"p":12,"r":"crt.p5.rb1","x":"3","v":9},{"p":12,"r":"crt.p5.rb1","x":"4","v":9},{"p":12,"r":"crt.p5.rb1","x":"5","v":9},{"p":12,"r":"crt.p5.rb1","x":"6","v":9},{"p":12,"r":"crt.p5.rb1","x":"7","v":9},{"p":12,"r":"crt.p5.rb1","x":"8","v":9},{"p":12,"r":"crt.p5.rb1","x":"9","v":8},{"p":12,"r":"crt.p5.rb1","x":"10","v":8},
{"p":12,"r":"crt.p1.rpmat","x":"0.25","v":5},{"p":12,"r":"crt.p1.rpmat","x":"0.5","v":5},{"p":12,"r":"crt.p1.rpmat","x":"0.75","v":6},{"p":12,"r":"crt.p1.rpmat","x":"1","v":7},{"p":12,"r":"crt.p1.rpmat","x":"1.25","v":7},{"p":12,"r":"crt.p1.rpmat","x":"1.5","v":8},{"p":12,"r":"crt.p1.rpmat","x":"1.75","v":8},{"p":12,"r":"crt.p1.rpmat","x":"2","v":7},{"p":12,"r":"crt.p1.rpmat","x":"2.5","v":8},{"p":12,"r":"crt.p1.rpmat","x":"3","v":7},{"p":12,"r":"crt.p1.rpmat","x":"4","v":7},{"p":12,"r":"crt.p1.rpmat","x":"5","v":8},{"p":12,"r":"crt.p1.rpmat","x":"6","v":7},{"p":12,"r":"crt.p1.rpmat","x":"7","v":8},{"p":12,"r":"crt.p1.rpmat","x":"8","v":8},{"p":12,"r":"crt.p1.rpmat","x":"9","v":10},{"p":12,"r":"crt.p1.rpmat","x":"10","v":10},
{"p":12,"r":"crt.d1.rpmat","x":"0.25","v":11},{"p":12,"r":"crt.d1.rpmat","x":"0.5","v":11},{"p":12,"r":"crt.d1.rpmat","x":"0.75","v":10},{"p":12,"r":"crt.d1.rpmat","x":"1","v":10},{"p":12,"r":"crt.d1.rpmat","x":"1.25","v":10},{"p":12,"r":"crt.d1.rpmat","x":"1.5","v":9},{"p":12,"r":"crt.d1.rpmat","x":"1.75","v":9},{"p":12,"r":"crt.d1.rpmat","x":"2","v":9},{"p":12,"r":"crt.d1.rpmat","x":"2.5","v":9},{"p":12,"r":"crt.d1.rpmat","x":"3","v":9},{"p":12,"r":"crt.d1.rpmat","x":"4","v":9},{"p":12,"r":"crt.d1.rpmat","x":"5","v":9},{"p":12,"r":"crt.d1.rpmat","x":"6","v":9},{"p":12,"r":"crt.d1.rpmat","x":"7","v":9},{"p":12,"r":"crt.d1.rpmat","x":"8","v":9},{"p":12,"r":"crt.d1.rpmat","x":"9","v":9},{"p":12,"r":"crt.d1.rpmat","x":"10","v":9},
{"p":12,"r":"crt.d1.rmat6","x":"0.25","v":10},{"p":12,"r":"crt.d1.rmat6","x":"0.5","v":10},{"p":12,"r":"crt.d1.rmat6","x":"0.75","v":10},{"p":12,"r":"crt.d1.rmat6","x":"1","v":10},{"p":12,"r":"crt.d1.rmat6","x":"1.25","v":9},{"p":12,"r":"crt.d1.rmat6","x":"1.5","v":9},{"p":12,"r":"crt.d1.rmat6","x":"1.75","v":9},{"p":12,"r":"crt.d1.rmat6","x":"2","v":10},{"p":12,"r":"crt.d1.rmat6","x":"2.5","v":9},{"p":12,"r":"crt.d1.rmat6","x":"3","v":10},{"p":12,"r":"crt.d1.rmat6","x":"4","v":10},{"p":12,"r":"crt.d1.rmat6","x":"5","v":10},{"p":12,"r":"crt.d1.rmat6","x":"6","v":10},{"p":12,"r":"crt.d1.rmat6","x":"7","v":11},{"p":12,"r":"crt.d1.rmat6","x":"8","v":11},{"p":12,"r":"crt.d1.rmat6","x":"9","v":11},{"p":12,"r":"crt.d1.rmat6","x":"10","v":11},
{"p":12,"r":"crt.d1.rmat17","x":"0.25","v":9},{"p":12,"r":"crt.d1.rmat17","x":"0.5","v":9},{"p":12,"r":"crt.d1.rmat17","x":"0.75","v":9},{"p":12,"r":"crt.d1.rmat17","x":"1","v":9},{"p":12,"r":"crt.d1.rmat17","x":"1.25","v":9},{"p":12,"r":"crt.d1.rmat17","x":"1.5","v":8},{"p":12,"r":"crt.d1.rmat17","x":"1.75","v":8},{"p":12,"r":"crt.d1.rmat17","x":"2","v":9},{"p":12,"r":"crt.d1.rmat17","x":"2.5","v":9},{"p":12,"r":"crt.d1.rmat17","x":"3","v":9},{"p":12,"r":"crt.d1.rmat17","x":"4","v":8},{"p":12,"r":"crt.d1.rmat17","x":"5","v":8},{"p":12,"r":"crt.d1.rmat17","x":"6","v":9},{"p":12,"r":"crt.d1.rmat17","x":"7","v":9},{"p":12,"r":"crt.d1.rmat17","x":"8","v":9},{"p":12,"r":"crt.d1.rmat17","x":"9","v":9},{"p":12,"r":"crt.d1.rmat17","x":"10","v":9},
{"p":12,"r":"ar","x":"0.25","v":4},{"p":12,"r":"ar","x":"0.5","v":4},{"p":12,"r":"ar","x":"0.75","v":3},{"p":12,"r":"ar","x":"1","v":3},{"p":12,"r":"ar","x":"1.25","v":3},{"p":12,"r":"ar","x":"1.5","v":3},{"p":12,"r":"ar","x":"1.75","v":3},{"p":12,"r":"ar","x":"2","v":3},{"p":12,"r":"ar","x":"2.5","v":3},{"p":12,"r":"ar","x":"3","v":3},{"p":12,"r":"ar","x":"4","v":3},{"p":12,"r":"ar","x":"5","v":3},{"p":12,"r":"ar","x":"6","v":3},{"p":12,"r":"ar","x":"7","v":3},{"p":12,"r":"ar","x":"8","v":4},{"p":12,"r":"ar","x":"9","v":3},{"p":12,"r":"ar","x":"10","v":4}
]},
"columns":2,
"spacing":{"row":99,"column":288},
"bounds":"flush",
"concat":[
{"title":"Horizonte 1","width":266,"height":267,"transform":[{"filter":"datum.p==1"}],"mark":{"type":"rect","strokeWidth":0.6},
"encoding":{"x":{"field":"x","type":"ordinal","sort":["0.25","0.5","0.75","1","1.25","1.5","1.75","2","2.5","3","4","5","6","7","8","9","10"],"scale":{"paddingInner":0,"paddingOuter":0}},
"y":{"field":"r","type":"ordinal","sort":["rw","ftsa.p5_rw.rmat7","ftsa.p5_ets.rmat1","ftsa.p3_ets.rmat17","diebold.05","crt.p5.rpmat","crt.p5.rmat6","crt.p5.rmat17","crt.p5.rb1","crt.p1.rpmat","crt.d1.rpmat","crt.d1.rmat6","crt.d1.rmat17","ar"],"scale":{"paddingInner":0,"paddingOuter":0},"axis":{"orient":"right"}},
"color":{"field":"v","type":"ordinal","scale":{"domain":[0,1,2,3,4,5,6,7,8,9,10,11],"range":["#FF0000","#FF2000","#FF4000","#FF6000","#FF8000","#FF9F00","#FFBF00","#FFDF00","#FFFF00","#FFFF2A","#FFFF80","#FFFFD5"]},"legend":null},
"stroke":{"field":"v","type":"ordinal","scale":{"domain":[0,1,2,3,4,5,6,7,8,9,10,11],"range":["#FF0000","#FF2000","#FF4000","#FF6000","#FF8000","#FF9F00","#FFBF00","#FFDF00","#FFFF00","#FFFF2A","#FFFF80","#FFFFD5"]},"legend":null}}},
{"title":"Horizonte 6","width":266,"height":267,"transform":[{"filter":"datum.p==6"}],"mark":{"type":"rect","strokeWidth":0.6},
"encoding":{"x":{"field":"x","type":"ordinal","sort":["0.25","0.5","0.75","1","1.25","1.5","1.75","2","2.5","3","4","5","6","7","8","9","10"],"scale":{"paddingInner":0,"paddingOuter":0}},
"y":{"field":"r","type":"ordinal","sort":["rw","ftsa.p5_rw.rmat7","ftsa.p5_ets.rmat1","ftsa.p3_ets.rmat17","diebold.05","crt.p5.rpmat","crt.p5.rmat6","crt.p5.rmat17","crt.p5.rb1","crt.p1.rpmat","crt.d1.rpmat","crt.d1.rmat6","crt.d1.rmat17","ar"],"scale":{"paddingInner":0,"paddingOuter":0},"axis":{"orient":"right"}},
"color":{"field":"v","type":"ordinal","scale":{"domain":[0,1,2,3,4,5,6,7,8,9,10,11],"range":["#FF0000","#FF2000","#FF4000","#FF6000","#FF8000","#FF9F00","#FFBF00","#FFDF00","#FFFF00","#FFFF2A","#FFFF80","#FFFFD5"]},"legend":null},
"stroke":{"field":"v","type":"ordinal","scale":{"domain":[0,1,2,3,4,5,6,7,8,9,10,11],"range":["#FF0000","#FF2000","#FF4000","#FF6000","#FF8000","#FF9F00","#FFBF00","#FFDF00","#FFFF00","#FFFF2A","#FFFF80","#FFFFD5"]},"legend":null}}},
{"title":"Horizonte 3","width":266,"height":267,"transform":[{"filter":"datum.p==3"}],"mark":{"type":"rect","strokeWidth":0.6},
"encoding":{"x":{"field":"x","type":"ordinal","sort":["0.25","0.5","0.75","1","1.25","1.5","1.75","2","2.5","3","4","5","6","7","8","9","10"],"scale":{"paddingInner":0,"paddingOuter":0}},
"y":{"field":"r","type":"ordinal","sort":["rw","ftsa.p5_rw.rmat7","ftsa.p5_ets.rmat1","ftsa.p3_ets.rmat17","diebold.05","crt.p5.rpmat","crt.p5.rmat6","crt.p5.rmat17","crt.p5.rb1","crt.p1.rpmat","crt.d1.rpmat","crt.d1.rmat6","crt.d1.rmat17","ar"],"scale":{"paddingInner":0,"paddingOuter":0},"axis":{"orient":"right"}},
"color":{"field":"v","type":"ordinal","scale":{"domain":[0,1,2,3,4,5,6,7,8,9,10,11],"range":["#FF0000","#FF2000","#FF4000","#FF6000","#FF8000","#FF9F00","#FFBF00","#FFDF00","#FFFF00","#FFFF2A","#FFFF80","#FFFFD5"]},"legend":null},
"stroke":{"field":"v","type":"ordinal","scale":{"domain":[0,1,2,3,4,5,6,7,8,9,10,11],"range":["#FF0000","#FF2000","#FF4000","#FF6000","#FF8000","#FF9F00","#FFBF00","#FFDF00","#FFFF00","#FFFF2A","#FFFF80","#FFFFD5"]},"legend":null}}},
{"title":"Horizonte 12","width":266,"height":267,"transform":[{"filter":"datum.p==12"}],"mark":{"type":"rect","strokeWidth":0.6},
"encoding":{"x":{"field":"x","type":"ordinal","sort":["0.25","0.5","0.75","1","1.25","1.5","1.75","2","2.5","3","4","5","6","7","8","9","10"],"scale":{"paddingInner":0,"paddingOuter":0}},
"y":{"field":"r","type":"ordinal","sort":["rw","ftsa.p5_rw.rmat7","ftsa.p5_ets.rmat1","ftsa.p3_ets.rmat17","diebold.05","crt.p5.rpmat","crt.p5.rmat6","crt.p5.rmat17","crt.p5.rb1","crt.p1.rpmat","crt.d1.rpmat","crt.d1.rmat6","crt.d1.rmat17","ar"],"scale":{"paddingInner":0,"paddingOuter":0},"axis":{"orient":"right"}},
"color":{"field":"v","type":"ordinal","scale":{"domain":[0,1,2,3,4,5,6,7,8,9,10,11],"range":["#FF0000","#FF2000","#FF4000","#FF6000","#FF8000","#FF9F00","#FFBF00","#FFDF00","#FFFF00","#FFFF2A","#FFFF80","#FFFFD5"]},"legend":null},
"stroke":{"field":"v","type":"ordinal","scale":{"domain":[0,1,2,3,4,5,6,7,8,9,10,11],"range":["#FF0000","#FF2000","#FF4000","#FF6000","#FF8000","#FF9F00","#FFBF00","#FFDF00","#FFFF00","#FFFF2A","#FFFF80","#FFFFD5"]},"legend":null}}}
]
}
